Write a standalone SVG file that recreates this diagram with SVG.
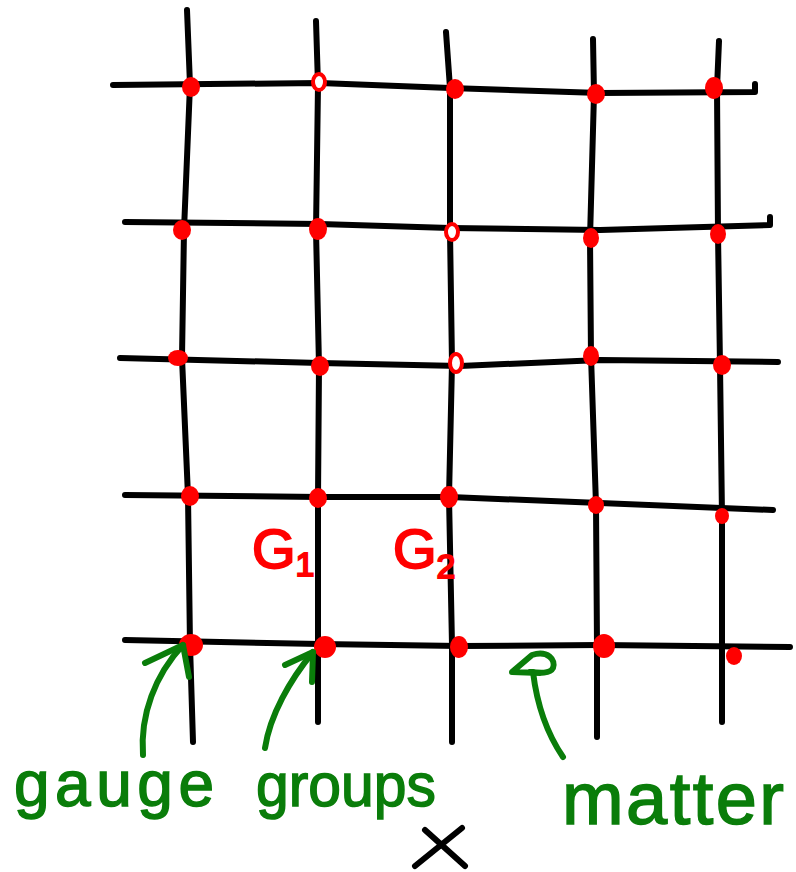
<svg xmlns="http://www.w3.org/2000/svg" width="796" height="872" viewBox="0 0 796 872">
<style>
.ln{fill:none;stroke:#000;stroke-width:6;stroke-linecap:round;stroke-linejoin:round}
.gr{fill:none;stroke:#0a7d0a;stroke-width:6;stroke-linecap:round;stroke-linejoin:round}
.dot{fill:#f00}
.ring{fill:#fff;stroke:#f00;stroke-width:4}
.red{fill:#f00;stroke:#f00;stroke-width:2;font-family:"Liberation Sans",Arial,sans-serif}
.gt{fill:#0a7d0a;stroke:#0a7d0a;stroke-width:1.5;font-family:"Liberation Sans",Arial,sans-serif}
</style>
<rect width="796" height="872" fill="#fff"/>
<g id="lattice">
<path class="ln" d="M113,85 L320,83 L450,88 L600,93 L755,92 L755,84"/>
<path class="ln" d="M125,222 L320,224 L450,228 L600,230 L770,225 L770,217"/>
<path class="ln" d="M120,358 L320,363 L460,366 L600,360 L778,362"/>
<path class="ln" d="M125,495 L320,497 L450,497 L600,503 L773,510"/>
<path class="ln" d="M125,640 L320,644 L460,646 L600,645 L790,647"/>
<path class="ln" d="M187,10 L190,85 L184,230 L182,358 L188,496 L190,645 L193,742"/>
<path class="ln" d="M316,21 L318,85 L316,230 L319,366 L318,498 L318,645 L318,722"/>
<path class="ln" d="M446,32 L450,88 L450,232 L452,363 L449,497 L452,645 L452,742"/>
<path class="ln" d="M593,39 L594,94 L590,238 L591,356 L596,505 L597,645 L597,737"/>
<path class="ln" d="M719,41 L717,88 L718,234 L720,365 L722,516 L722,645 L722,722"/>
</g>
<g id="sites">
<ellipse class="dot" cx="191" cy="87" rx="9" ry="10"/>
<ellipse class="ring" cx="319" cy="82" rx="6" ry="8"/>
<ellipse class="dot" cx="455" cy="89" rx="9" ry="10"/>
<ellipse class="dot" cx="596" cy="94" rx="9" ry="10"/>
<ellipse class="dot" cx="714" cy="88" rx="9" ry="11"/>
<ellipse class="dot" cx="182" cy="230" rx="9" ry="10"/>
<ellipse class="dot" cx="318" cy="229" rx="9" ry="11"/>
<ellipse class="ring" cx="452" cy="232" rx="6" ry="8"/>
<ellipse class="dot" cx="591" cy="238" rx="8" ry="10"/>
<ellipse class="dot" cx="718" cy="234" rx="8" ry="10"/>
<ellipse class="dot" cx="178" cy="358" rx="10" ry="8"/>
<ellipse class="dot" cx="320" cy="366" rx="9" ry="10"/>
<ellipse class="ring" cx="456" cy="363" rx="6" ry="9"/>
<ellipse class="dot" cx="591" cy="356" rx="8" ry="10"/>
<ellipse class="dot" cx="722" cy="365" rx="9" ry="10"/>
<ellipse class="dot" cx="190" cy="496" rx="9" ry="10"/>
<ellipse class="dot" cx="318" cy="498" rx="9" ry="10"/>
<ellipse class="dot" cx="449" cy="497" rx="9" ry="11"/>
<ellipse class="dot" cx="596" cy="505" rx="8" ry="9"/>
<ellipse class="dot" cx="722" cy="516" rx="7" ry="8"/>
<ellipse class="dot" cx="191" cy="645" rx="12" ry="11"/>
<ellipse class="dot" cx="325" cy="647" rx="11" ry="11"/>
<ellipse class="dot" cx="459" cy="647" rx="9" ry="11"/>
<ellipse class="dot" cx="604" cy="646" rx="11" ry="12"/>
<ellipse class="dot" cx="734" cy="656" rx="8" ry="9"/>
</g>
<g id="labels-G">
<text class="red" x="252" y="568" font-size="56">G<tspan font-size="34" dy="8">1</tspan></text>
<text class="red" x="393" y="568" font-size="56">G<tspan font-size="34" dy="10">2</tspan></text>
</g>
<g id="connectors">
<path class="gr" d="M143,755 C140,715 155,675 183,645"/>
<path class="gr" d="M145,663 L183,645 L189,677"/>
<path class="gr" d="M265,748 C270,715 290,680 313,652"/>
<path class="gr" d="M285,665 L313,652 L312,682"/>
<path class="gr" d="M563,757 C548,735 537,705 533,672"/>
<path class="gr" d="M540,673 L512,672 L532,655 C548,650 556,660 553,668 C550,674 540,673 530,672"/>
</g>
<g id="text-labels">
<text class="gt" x="14" y="806" font-size="64" textLength="200" lengthAdjust="spacing">gauge</text>
<text class="gt" x="256" y="806" font-size="62" textLength="180" lengthAdjust="spacingAndGlyphs">groups</text>
<text class="gt" x="562" y="824" font-size="74" textLength="222" lengthAdjust="spacing">matter</text>
</g>
<g id="cross">
<path class="ln" d="M425,830 L465,866 M462,828 L415,866"/>
</g>
</svg>
